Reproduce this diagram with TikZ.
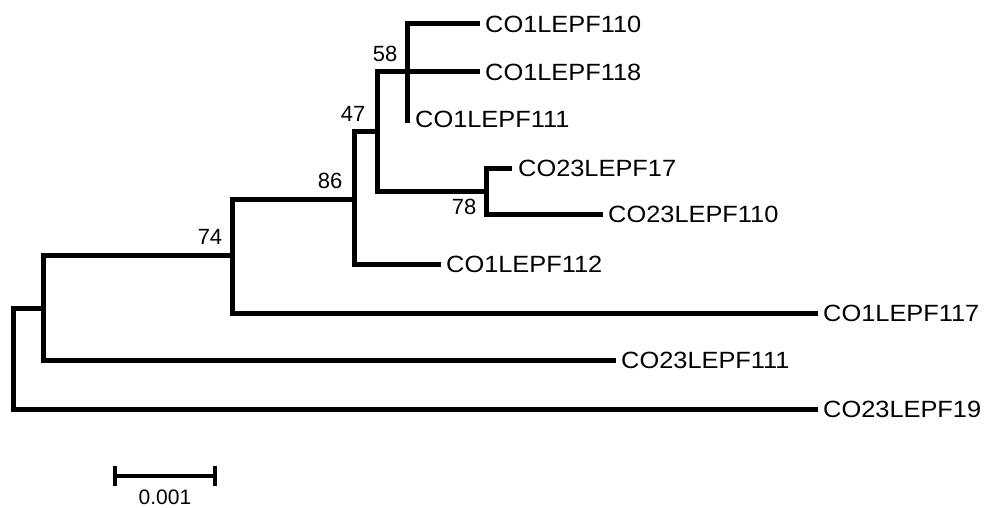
\documentclass[tikz,border=0pt]{standalone}
\usepackage{fontspec}
\setmainfont{Liberation Sans}
\newfontfamily\taxonfont[FakeStretch=1.08]{Liberation Sans}
\begin{document}
\begin{tikzpicture}[x=1pt,y=-1pt,
  branch/.style={line width=5pt, line join=miter, line cap=rect},
  taxon/.style={anchor=west, inner sep=0pt, font=\taxonfont\fontsize{23.5}{23.5}\selectfont},
  support/.style={inner sep=0pt, font=\fontsize{22}{22}\selectfont},
  scalelbl/.style={inner sep=0pt, font=\fontsize{21}{21}\selectfont}]
\useasboundingbox (0,0) rectangle (985,508);

% internal nodes (x = node depth, y = stem height)
\coordinate (root) at (13,358);
\coordinate (nA) at (43,308);
\coordinate (nB) at (232,255);
\coordinate (nC) at (354,199);
\coordinate (nD) at (377,132);
\coordinate (nE) at (407,72);
\coordinate (nF) at (486,191);

% leaf tips
\coordinate (t19)  at (815,409);
\coordinate (t111b) at (613,360);
\coordinate (t117) at (815,313);
\coordinate (t112) at (438,264);
\coordinate (t110) at (477,24);
\coordinate (t118) at (477,72);
\coordinate (t111) at (407,121);
\coordinate (t17)  at (509,168);
\coordinate (t110b) at (600,214);

% branches
\draw[branch] (t19 -| root) |- (nA);
\draw[branch] (t19 -| root) -- (t19);
\draw[branch] (nA |- nB) |- (t111b);
\draw[branch] (nA |- nB) -- (nB);
\draw[branch] (nB |- nC) |- (t117);
\draw[branch] (nB |- nC) -- (nC);
\draw[branch] (nC |- nD) |- (t112);
\draw[branch] (nC |- nD) -- (nD);
\draw[branch] (nD |- nE) |- (nF);
\draw[branch] (nD |- nE) -- (t118);
\draw[branch] (nE |- t110) -- (t111);
\draw[branch] (nE |- t110) -- (t110);
\draw[branch] (nF |- t17) |- (t110b);
\draw[branch] (nF |- t17) -- (t17);

% taxon labels
\node[taxon] (L110)  at ([xshift=8pt]t110)  {CO1LEPF110};
\node[taxon] (L118)  at ([xshift=8pt]t118)  {CO1LEPF118};
\node[taxon] (L111)  at ([xshift=8pt,yshift=2pt]t111) {CO1LEPF111};
\node[taxon] (L17)   at ([xshift=9pt]t17)   {CO23LEPF17};
\node[taxon] (L110b) at ([xshift=8pt]t110b) {CO23LEPF110};
\node[taxon] (L112)  at ([xshift=8pt]t112)  {CO1LEPF112};
\node[taxon] (L117)  at ([xshift=8pt]t117)  {CO1LEPF117};
\node[taxon] (L111b) at ([xshift=8pt]t111b) {CO23LEPF111};
\node[taxon] (L19)   at ([xshift=8pt]t19)   {CO23LEPF19};

% bootstrap support values
\node[support] (bB) at ([xshift=-22pt,yshift=18pt]nB) {74};
\node[support] (bC) at ([xshift=-24pt,yshift=18pt]nC) {86};
\node[support] (bD) at ([xshift=-24pt,yshift=18pt]nD) {47};
\node[support] (bE) at ([xshift=-22pt,yshift=18pt]nE) {58};
\node[support] (bF) at ([xshift=-22pt,yshift=-16pt]nF) {78};

% scale bar
\coordinate (s0) at (115,476);
\coordinate (s1) at (215,476);
\draw[line width=4.6pt] (s0) -- (s1);
\draw[line width=4.6pt] ([yshift=-10pt]s0) -- ([yshift=10pt]s0);
\draw[line width=4.6pt] ([yshift=-10pt]s1) -- ([yshift=10pt]s1);
\node[scalelbl] (sl) at (165,497) {0.001};
\end{tikzpicture}
\end{document}
